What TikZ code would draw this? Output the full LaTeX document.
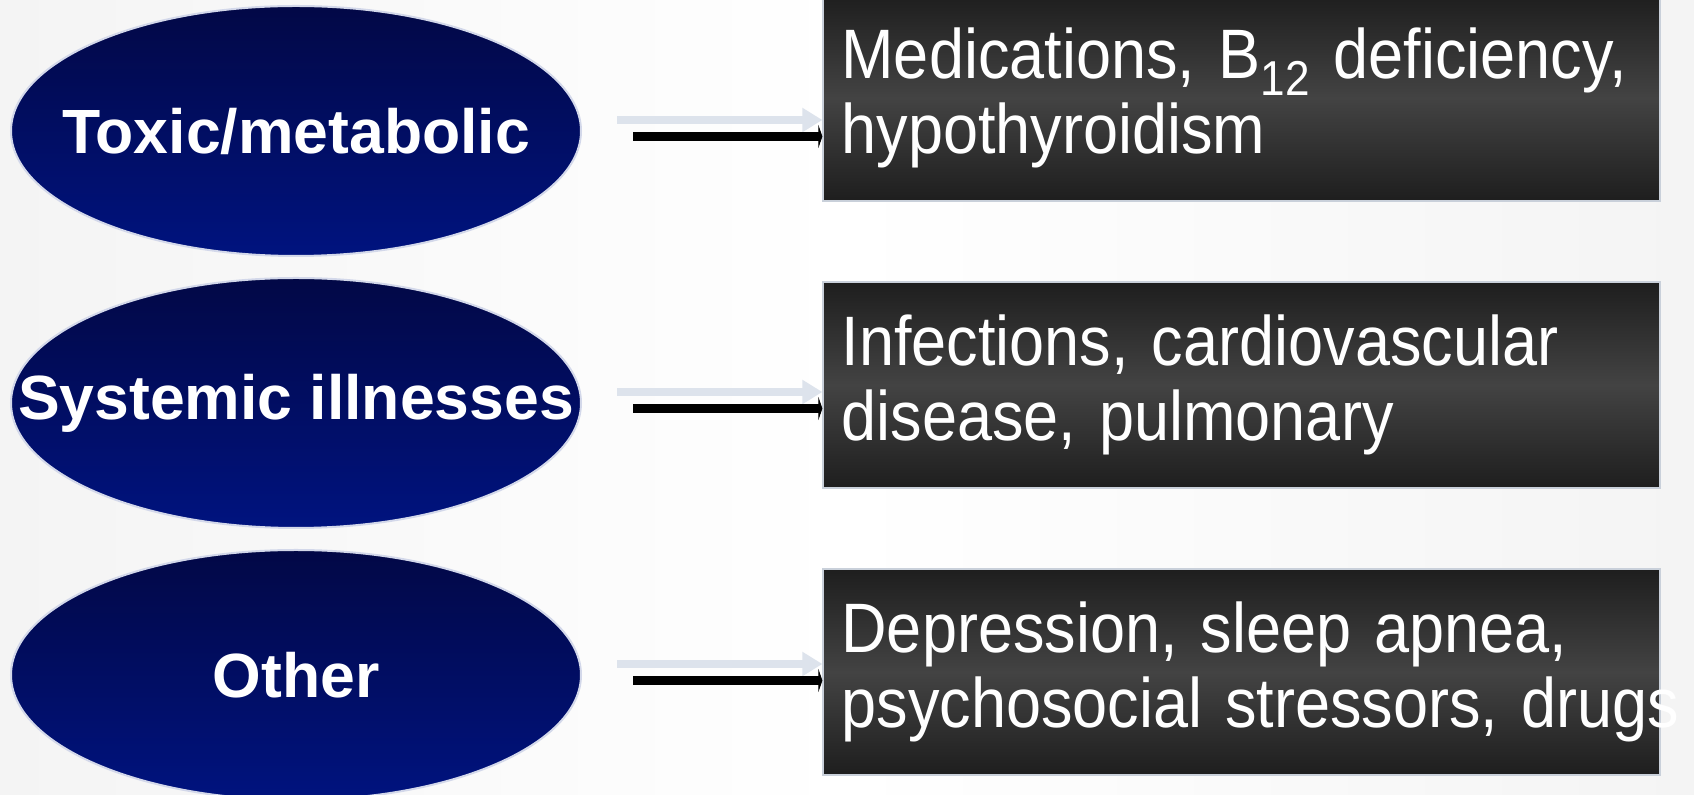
\documentclass[tikz,border=0pt]{standalone}
\usepackage{fontspec}
\setmainfont{Liberation Sans}
\newfontfamily\narrowfont[FakeStretch=0.9]{Liberation Sans}
\usepackage{tikz}
\usetikzlibrary{arrows.meta,positioning,shapes.geometric}
\definecolor{navytop}{HTML}{020846}
\definecolor{navybot}{HTML}{00137F}
\definecolor{rimblue}{HTML}{D3D8EA}
\definecolor{boxdark}{HTML}{1E1E1E}
\definecolor{boxmid}{HTML}{434343}
\definecolor{boxrim}{HTML}{C9D0DA}
\definecolor{ghost}{HTML}{DDE3EC}
\definecolor{bgside}{HTML}{F4F4F4}

\begin{document}
\begin{tikzpicture}[x=0.5pt, y=-0.5pt,
  cause/.style={ellipse, draw=rimblue, line width=1pt, top color=navytop, bottom color=navybot,
    minimum width=285pt, minimum height=125pt, inner sep=0pt, text=white,
    font=\fontsize{31.25}{36}\selectfont\bfseries},
  detail/.style={rectangle, draw=boxrim, line width=0.6pt, top color=boxdark, bottom color=boxdark,
    middle color=boxmid, minimum width=418.5pt, minimum height=103pt, text width=400pt,
    inner xsep=9pt, align=left, text=white, font=\narrowfont\fontsize{35}{37.5}\selectfont},
  ghostarrow/.style={ghost, line width=4pt, -{Triangle[length=10pt,width=11.5pt]}},
  blackarrow/.style={black, line width=4.5pt, -{Triangle[length=2pt,width=11.5pt]}}]
  % Page
  \useasboundingbox (0,0) rectangle (1694,795);
  \fill[left color=bgside, right color=bgside, middle color=white] (0,0) rectangle (1694,795);
  % Causes
  \node[cause] (tox) at (296,131) {\makebox[0pt]{Toxic/metabolic}};
  \node[cause] (sys) at (296,403) {\makebox[0pt]{Systemic illnesses}};
  \node[cause] (oth) at (296,675) {\makebox[0pt]{Other}};
  % Examples
  \node[detail] (med) at (1241.5,98) {Medications, B\textsubscript{12} deficiency,\\hypothyroidism};
  \node[detail] (inf) at (1241.5,385) {Infections, cardiovascular\\disease, pulmonary};
  \node[detail] (dep) at (1241.5,672) {Depression, sleep apnea,\\\mbox{psychosocial stressors, drugs}};
  % Arrows
  \foreach \a/\b in {tox/med, sys/inf, oth/dep} {
    \draw[ghostarrow] ([xshift=17.5pt,yshift=5.5pt]\a.east) -- ([yshift=5.5pt]\a.east -| \b.west);
    \draw[blackarrow] ([xshift=25.5pt,yshift=-2.75pt]\a.east) -- ([yshift=-2.75pt]\a.east -| \b.west);
  }
\end{tikzpicture}
\end{document}
